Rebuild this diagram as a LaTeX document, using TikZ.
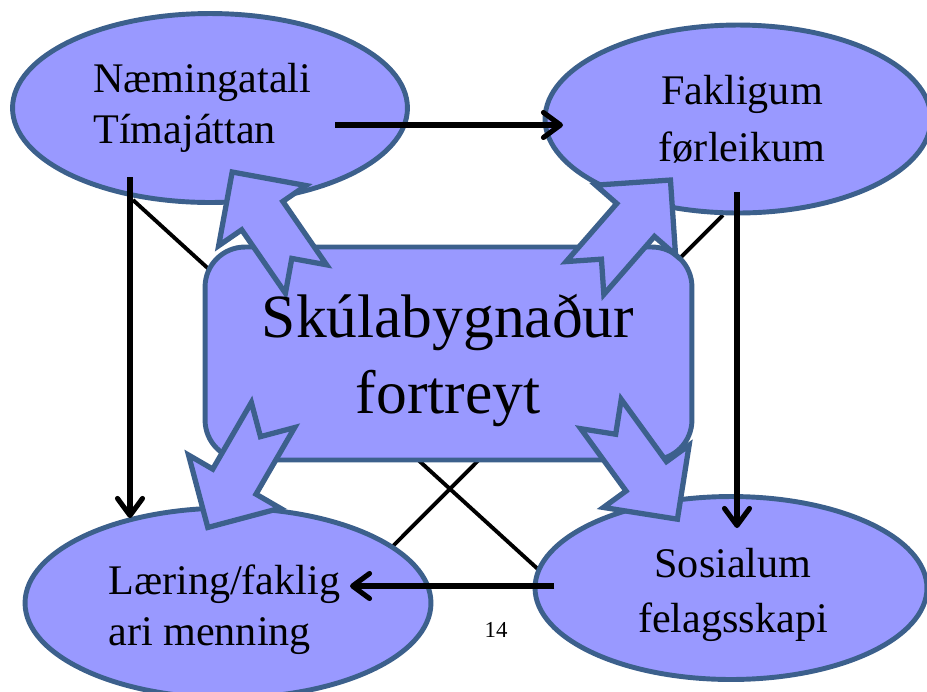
\documentclass[tikz,border=0pt]{standalone}
\usepackage{fontspec}
\setmainfont{Liberation Serif}
\usetikzlibrary{arrows.meta,shapes.geometric}
\definecolor{lilla}{RGB}{153,153,255}
\definecolor{kantblatt}{RGB}{60,96,140}
% blokkpil: x, y of tail, angle
\newcommand{\blokkpil}[3]{%
\draw[pil,shift={(#1,#2)},rotate=#3] (0,25) -- (25,0) -- (0,-25) -- (77,-25) -- (77,-53)
  -- (130,0) -- (77,53) -- (77,25) -- cycle;}
\begin{document}
\begin{tikzpicture}[x=0.02cm,y=-0.02cm,
  boble/.style={ellipse,draw=kantblatt,fill=lilla,line width=2.8pt,inner sep=0pt},
  kassi/.style={draw=kantblatt,fill=lilla,line width=2.8pt,rounded corners=0.8cm,inner sep=0pt},
  pil/.style={draw=kantblatt,fill=lilla,line width=3pt},
  tekst/.style={font=\fontsize{24}{28.5}\selectfont,inner sep=0pt},
  linja/.style={line width=2.2pt},
  strek/.style={line width=2.9pt,-{Straight Barb[length=0.34cm,width=0.5cm,round]}}]
\useasboundingbox (0,0) rectangle (927,691);
% diagonalar aftanfyri
\coordinate (d1a) at (133,200);
\coordinate (d1b) at (540,571);
\coordinate (d2a) at (723,215);
\coordinate (d2b) at (392,547);
\draw[linja] (d1a) -- (d1b);
\draw[linja] (d2a) -- (d2b);
% boblur
\node[boble,minimum width=7.9cm,minimum height=3.78cm] (naeming) at (210,108) {};
\node[boble,minimum width=7.72cm,minimum height=3.76cm] (fakligt) at (738,119) {};
\node[boble,minimum width=8.12cm,minimum height=3.8cm] (laering) at (228,603) {};
\node[boble,minimum width=7.84cm,minimum height=3.66cm] (sosialt) at (731,588) {};
\node[kassi,minimum width=9.74cm,minimum height=4.26cm] (skuli) at (448.5,353.5) {};
% blokkpilar
\blokkpil{306}{279}{124.6}
\blokkpil{585}{278}{48.9}
\blokkpil{273}{415}{239.9}
\blokkpil{601}{414}{-54}
% pilar
\coordinate (n1) at (335,125);
\coordinate (f1) at (563,125);
\coordinate (n2) at (130,177);
\coordinate (l1) at (130,518);
\coordinate (f2) at (737,192);
\coordinate (s1) at (737,528);
\coordinate (s2) at (554,586);
\coordinate (l2) at (350,586);
\draw[strek] (n1) -- (f1);
\draw[strek] (n2) -- (l1);
\draw[strek] (f2) -- (s1);
\draw[strek] (s2) -- (l2);
% tekstir (base = seinasta linja)
\node[tekst,anchor=base west,align=left] (naemingtekst) at (93,143) {Næmingatali\\Tímajáttan};
\node[tekst,anchor=base,align=center,font=\fontsize{24}{31.9}\selectfont] (fakligttekst) at (742,161) {Fakligum\\førleikum};
\node[tekst,anchor=base west,align=left] (laeringtekst) at (108,645) {Læring/faklig\\ari menning};
\node[tekst,anchor=base,align=center,font=\fontsize{24}{31.3}\selectfont] (sosialttekst) at (733,632) {Sosialum\\felagsskapi};
\node[tekst,anchor=base,align=center,font=\fontsize{35}{43.2}\selectfont] (skulitekst) at (448,413) {Skúlabygnaður\\fortreyt};
\node[font=\fontsize{13}{15}\selectfont,anchor=base,inner sep=0pt] (sidutal) at (496,637) {14};
\end{tikzpicture}
\end{document}
